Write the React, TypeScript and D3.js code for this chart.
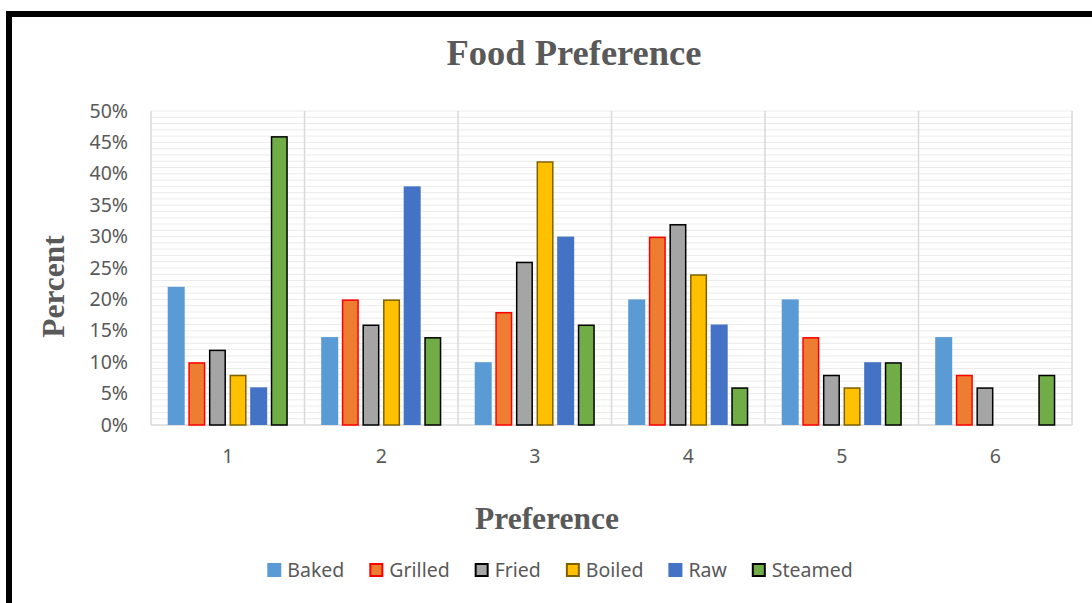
import React, { useEffect, useRef } from "react";
import * as d3 from "d3";

const categories = ["1", "2", "3", "4", "5", "6"];
const seriesNames = ["Baked", "Grilled", "Fried", "Boiled", "Raw", "Steamed"];
const baked = [22, 14, 10, 20, 20, 14];
const grilled = [10, 20, 18, 30, 14, 8];
const fried = [12, 16, 26, 32, 8, 6];
const boiled = [8, 20, 42, 24, 6, 0];
const raw = [6, 38, 30, 16, 10, 0];
const steamed = [46, 14, 16, 6, 10, 8];
const yTicks = [0, 5, 10, 15, 20, 25, 30, 35, 40, 45, 50];

const seriesValues = [baked, grilled, fried, boiled, raw, steamed];
const fills = ["#5B9BD5", "#ED7D31", "#A5A5A5", "#FFC000", "#4472C4", "#70AD47"];
const strokes = ["none", "#FF0000", "#000000", "#7F6000", "none", "#000000"];

const W = 1092;
const H = 603;
const plot = { left: 151, right: 1072, top: 111, bottom: 425 };
const tickFont = "'Noto Sans', 'Open Sans', sans-serif";
const serif = "'Liberation Serif', 'DejaVu Serif', serif";

export default function App() {
  const ref = useRef<SVGSVGElement>(null);

  useEffect(() => {
    const svg = d3.select(ref.current);
    svg.selectAll("*").remove();

    // outer frame (runs past the right and bottom edges)
    svg.append("rect")
      .attr("x", 9).attr("y", 14).attr("width", W + 20).attr("height", H + 20)
      .attr("fill", "#fff").attr("stroke", "#000").attr("stroke-width", 6);

    const x0 = d3.scaleBand().domain(categories).range([plot.left, plot.right]).paddingInner(0).paddingOuter(0);
    const x1 = d3.scaleBand().domain(seriesNames).range([0, x0.bandwidth()]).paddingInner(0.175).paddingOuter(0.81);
    const y = d3.scaleLinear().domain([0, 50]).range([plot.bottom, plot.top]);

    const g = svg.append("g");

    // 1% minor grid
    g.selectAll("line.minor")
      .data(d3.range(1, 51))
      .join("line")
      .attr("x1", plot.left).attr("x2", plot.right)
      .attr("y1", (d) => y(d)).attr("y2", (d) => y(d))
      .attr("stroke", "#ebebeb").attr("stroke-width", 1);

    // category separators
    g.selectAll("line.sep")
      .data(d3.range(0, categories.length + 1))
      .join("line")
      .attr("x1", (i) => plot.left + i * x0.step()).attr("x2", (i) => plot.left + i * x0.step())
      .attr("y1", plot.top).attr("y2", plot.bottom)
      .attr("stroke", "#d9d9d9").attr("stroke-width", 1.5);

    // baseline
    g.append("line")
      .attr("x1", plot.left).attr("x2", plot.right)
      .attr("y1", plot.bottom).attr("y2", plot.bottom)
      .attr("stroke", "#d9d9d9").attr("stroke-width", 1.5);

    // bars
    seriesNames.forEach((name, si) => {
      const vals = seriesValues[si];
      const hasStroke = strokes[si] !== "none";
      g.append("g")
        .selectAll("rect")
        .data(vals.map((v, ci) => ({ v, c: categories[ci] })).filter((d) => d.v > 0))
        .join("rect")
        .attr("x", (d) => (x0(d.c) as number) + (x1(name) as number) + (hasStroke ? 0.75 : 0))
        .attr("y", (d) => y(d.v) + (hasStroke ? 0.75 : 0))
        .attr("width", x1.bandwidth() - (hasStroke ? 1.5 : 0))
        .attr("height", (d) => y(0) - y(d.v) - (hasStroke ? 0.75 : 0))
        .attr("fill", fills[si])
        .attr("stroke", strokes[si])
        .attr("stroke-width", hasStroke ? 1.5 : 0);
    });

    // y tick labels
    g.selectAll("text.ytick")
      .data(yTicks)
      .join("text")
      .attr("x", 128).attr("y", (d) => y(d) + 6.5)
      .attr("text-anchor", "end")
      .attr("font-family", tickFont).attr("font-size", 19.5).attr("fill", "#595959")
      .text((d) => `${d}%`);

    // x tick labels
    g.selectAll("text.xtick")
      .data(categories)
      .join("text")
      .attr("x", (d) => (x0(d) as number) + x0.bandwidth() / 2).attr("y", 463)
      .attr("text-anchor", "middle")
      .attr("font-family", tickFont).attr("font-size", 19.5).attr("fill", "#595959")
      .text((d) => d);

    // titles
    svg.append("text")
      .attr("x", 574).attr("y", 65).attr("text-anchor", "middle")
      .attr("font-family", serif).attr("font-weight", "bold").attr("font-size", 36.5).attr("fill", "#595959")
      .text("Food Preference");
    svg.append("text")
      .attr("x", 547).attr("y", 529).attr("text-anchor", "middle")
      .attr("font-family", serif).attr("font-weight", "bold").attr("font-size", 31.5).attr("fill", "#595959")
      .text("Preference");
    svg.append("text")
      .attr("transform", `translate(64, 286.5) rotate(-90)`)
      .attr("text-anchor", "middle")
      .attr("font-family", serif).attr("font-weight", "bold").attr("font-size", 31.5).attr("fill", "#595959")
      .text("Percent");

    // legend
    const lg = svg.append("g");
    const items = lg.selectAll("g").data(seriesNames).join("g");
    items.append("rect")
      .attr("x", (_, i) => (strokes[i] === "none" ? 0 : 1))
      .attr("y", (_, i) => (strokes[i] === "none" ? -14 : -13))
      .attr("width", (_, i) => (strokes[i] === "none" ? 14 : 12))
      .attr("height", (_, i) => (strokes[i] === "none" ? 14 : 12))
      .attr("fill", (_, i) => fills[i])
      .attr("stroke", (_, i) => strokes[i])
      .attr("stroke-width", (_, i) => (strokes[i] === "none" ? 0 : 2));
    items.append("text")
      .attr("x", 20).attr("y", 0)
      .attr("font-family", tickFont).attr("font-size", 19.5).attr("fill", "#595959")
      .text((d) => d);
    let cx = 0;
    const gap = 25;
    items.each(function () {
      const node = this as SVGGElement;
      const t = node.querySelector("text") as SVGTextElement;
      const w = 20 + t.getComputedTextLength();
      node.setAttribute("transform", `translate(${cx},0)`);
      cx += w + gap;
    });
    const total = cx - gap;
    lg.attr("transform", `translate(${560 - total / 2}, 577)`);
  }, []);

  return (
    <svg
      ref={ref}
      width={W}
      height={H}
      style={{ position: "absolute", left: 0, top: 0, background: "#fff" }}
    />
  );
}
